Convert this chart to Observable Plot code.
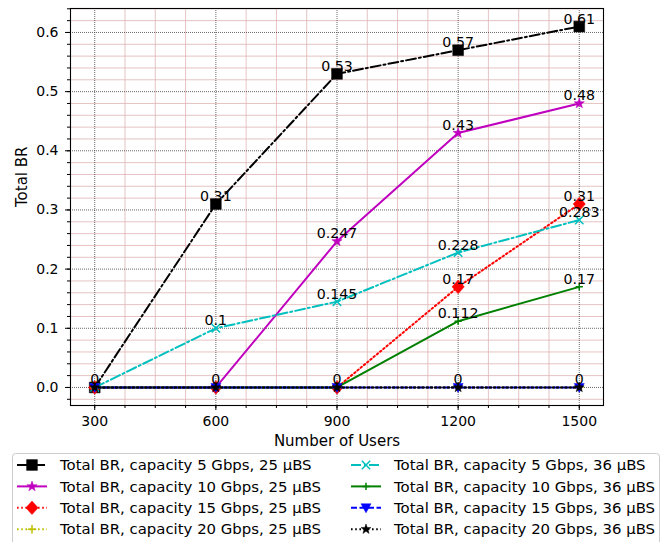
<!DOCTYPE html>
<html><head><meta charset="utf-8">
<script src="https://cdn.jsdelivr.net/npm/d3@7"></script>
<script src="https://cdn.jsdelivr.net/npm/@observablehq/plot@0.6"></script>
<style>
html,body{margin:0;padding:0;background:#fff;}
body{width:672px;height:542px;overflow:hidden;font-family:"DejaVu Sans",sans-serif;}
#chart svg,#legend svg{display:block;}
</style></head><body>
<div id="chart"></div>
<div id="legend"></div>
<script>
// ---- data ----
const users = [300, 600, 900, 1200, 1500];
const br_5g_25 = [0, 0.31, 0.53, 0.57, 0.61];
const br_10g_25 = [0, 0, 0.247, 0.43, 0.48];
const br_15g_25 = [0, 0, 0, 0.17, 0.31];
const br_20g_25 = [0, 0, 0, 0, 0];
const br_5g_36 = [0, 0.1, 0.145, 0.228, 0.283];
const br_10g_36 = [0, 0, 0, 0.112, 0.17];
const br_15g_36 = [0, 0, 0, 0, 0];
const br_20g_36 = [0, 0, 0, 0, 0];
const seriesLabels = [
  "Total BR, capacity 5 Gbps, 25 µBS",
  "Total BR, capacity 10 Gbps, 25 µBS",
  "Total BR, capacity 15 Gbps, 25 µBS",
  "Total BR, capacity 20 Gbps, 25 µBS",
  "Total BR, capacity 5 Gbps, 36 µBS",
  "Total BR, capacity 10 Gbps, 36 µBS",
  "Total BR, capacity 15 Gbps, 36 µBS",
  "Total BR, capacity 20 Gbps, 36 µBS"
];
const xTicks = [300, 600, 900, 1200, 1500];
const yTicks = [0, 0.1, 0.2, 0.3, 0.4, 0.5, 0.6];
const xLabel = "Number of Users";
const yLabel = "Total BR";

// ---- marker shapes ----
const rad = s => Math.sqrt(s / Math.PI);
const symSquare = {draw(c, s){const r = rad(s); c.rect(-r, -r, 2*r, 2*r);}};
const symDiamond = {draw(c, s){const r = rad(s); c.moveTo(0,-r); c.lineTo(r*0.9,0); c.lineTo(0,r); c.lineTo(-r*0.9,0); c.closePath();}};
const symStar = {draw(c, s){const R = rad(s), ri = R*0.4;
  for (let k = 0; k < 10; k++) {const a = -Math.PI/2 + k*Math.PI/5; const rr = k%2 ? ri : R;
    const x = rr*Math.cos(a), y = rr*Math.sin(a); k ? c.lineTo(x,y) : c.moveTo(x,y);} c.closePath();}};
const symTriDown = {draw(c, s){const r = rad(s); c.moveTo(-r,-r*0.8); c.lineTo(r,-r*0.8); c.lineTo(0,r); c.closePath();}};
const symX = {draw(c, s){const r = rad(s); c.moveTo(-r,-r); c.lineTo(r,r); c.moveTo(r,-r); c.lineTo(-r,r);}};
const symPlus = {draw(c, s){const r = rad(s); c.moveTo(-r,0); c.lineTo(r,0); c.moveTo(0,-r); c.lineTo(0,r);}};

const seriesValues = [br_5g_25, br_10g_25, br_15g_25, br_20g_25, br_5g_36, br_10g_36, br_15g_36, br_20g_36];
const styles = [
  {color:"#000000", dash:"10,3,2,3", sym:symSquare, r:5.4, filled:true},
  {color:"#bf00bf", dash:null, sym:symStar, r:5.4, filled:true},
  {color:"#ff0000", dash:"1.6,2.6", sym:symDiamond, r:6.8, filled:true},
  {color:"#bfbf00", dash:"1.6,2.6", sym:symPlus, r:4.2, filled:false},
  {color:"#00bfbf", dash:"10,3,2,3", sym:symX, r:4.2, filled:false},
  {color:"#008000", dash:null, sym:symPlus, r:3.6, filled:false},
  {color:"#0000ff", dash:"6,2.5", sym:symTriDown, r:5, filled:true},
  {color:"#000000", dash:"1.6,2.6", sym:symStar, r:5.2, filled:true}
];

const series = seriesValues.map((vals, k) => users.map((u, i) => ({x: u, y: vals[i], k})));

// annotations (deduplicated)
const seen = new Set();
const annots = [];
seriesValues.forEach(vals => vals.forEach((v, i) => {
  const key = users[i] + "|" + v;
  if (!seen.has(key)) { seen.add(key); annots.push({x: users[i], y: v, label: String(v)}); }
}));

const xMinor = d3.range(300, 1501, 75).filter(v => !xTicks.includes(v));
const yMinor = d3.range(-0.02, 0.645, 0.02).map(v => +v.toFixed(2)).filter(v => !yTicks.some(t => Math.abs(t - v) < 1e-9));
const xMinorAll = d3.range(300, 1501, 75);
const yMinorAll = d3.range(-0.02, 0.645, 0.02).map(v => +v.toFixed(2));

const marks = [
  Plot.gridX(xMinor, {stroke:"#e0b4b4", strokeOpacity:1, strokeWidth:0.8}),
  Plot.gridY(yMinor, {stroke:"#e0b4b4", strokeOpacity:1, strokeWidth:0.8}),
  Plot.gridX(xTicks, {stroke:"#444", strokeOpacity:1, strokeWidth:0.8, strokeDasharray:"1,1"}),
  Plot.gridY(yTicks, {stroke:"#444", strokeOpacity:1, strokeWidth:0.8, strokeDasharray:"1,1"})
];
series.forEach((data, k) => {
  const st = styles[k];
  marks.push(Plot.line(data, {x:"x", y:"y", stroke: st.color, strokeWidth: 2, strokeDasharray: st.dash || undefined}));
  marks.push(Plot.dot(data, {x:"x", y:"y", symbol: st.sym, r: st.r,
    fill: st.filled ? st.color : "none", stroke: st.color, strokeWidth: st.filled ? 0.5 : 1.5}));
});
marks.push(
  Plot.text(annots, {x:"x", y:"y", text:"label", textAnchor:"middle", lineAnchor:"bottom", dy:-3, fontSize:14.2, fill:"black"}),
  Plot.frame({stroke:"black", strokeWidth:1.1}),
  Plot.axisX(xTicks, {anchor:"bottom", tickSize:5, tickPadding:6, fontSize:14, label:null, tickFormat: d => String(d)}),
  Plot.axisX(xMinorAll, {anchor:"bottom", tickSize:3, tickFormat: () => "", label:null}),
  Plot.axisY(yTicks, {anchor:"left", tickSize:5, tickPadding:7, fontSize:14, label:null, tickFormat: d3.format(".1f")}),
  Plot.axisY(yMinorAll, {anchor:"left", tickSize:3, tickFormat: () => "", label:null}),
  Plot.text([xLabel], {text: d => d, frameAnchor:"bottom", dy:36, lineAnchor:"middle", fontSize:15, fill:"black"}),
  Plot.text([yLabel], {text: d => d, frameAnchor:"left", dx:-48, rotate:-90, lineAnchor:"middle", fontSize:15, fill:"black"})
);

const chart = Plot.plot({
  width: 672, height: 452,
  marginLeft: 70, marginRight: 69, marginTop: 8, marginBottom: 47,
  style: {fontFamily:"DejaVu Sans, sans-serif", fontSize:"14px", color:"black", background:"white", overflow:"visible"},
  x: {type:"linear", domain:[240, 1560], axis:null},
  y: {type:"linear", domain:[-0.0305, 0.6405], axis:null},
  marks
});
document.getElementById("chart").appendChild(chart);

// ---- legend ----
const lg = d3.select("#legend").append("svg").attr("width", 672).attr("height", 90)
  .style("font-family", "DejaVu Sans, sans-serif");
lg.append("rect").attr("x", 12.5).attr("y", 1.5).attr("width", 647).attr("height", 110)
  .attr("rx", 3).attr("fill", "white").attr("stroke", "#cccccc").attr("stroke-width", 1);
const colX = [17, 351];
const rowY = [13, 34.4, 55.8, 77.2];
seriesLabels.forEach((lab, k) => {
  const st = styles[k];
  const cx = colX[Math.floor(k/4)], cy = rowY[k%4];
  const g = lg.append("g");
  g.append("line").attr("x1", cx).attr("x2", cx+30).attr("y1", cy).attr("y2", cy)
    .attr("stroke", st.color).attr("stroke-width", 2).attr("stroke-dasharray", st.dash);
  g.append("path").attr("transform", `translate(${cx+15},${cy})`)
    .attr("d", d3.symbol(st.sym, st.r*st.r*Math.PI)())
    .attr("fill", st.filled ? st.color : "none").attr("stroke", st.color)
    .attr("stroke-width", st.filled ? 0.5 : 1.5);
  g.append("text").attr("x", cx+43).attr("y", cy).attr("dy", "0.35em")
    .attr("font-size", 14.9).attr("fill", "black").text(lab);
});
</script>
</body></html>
